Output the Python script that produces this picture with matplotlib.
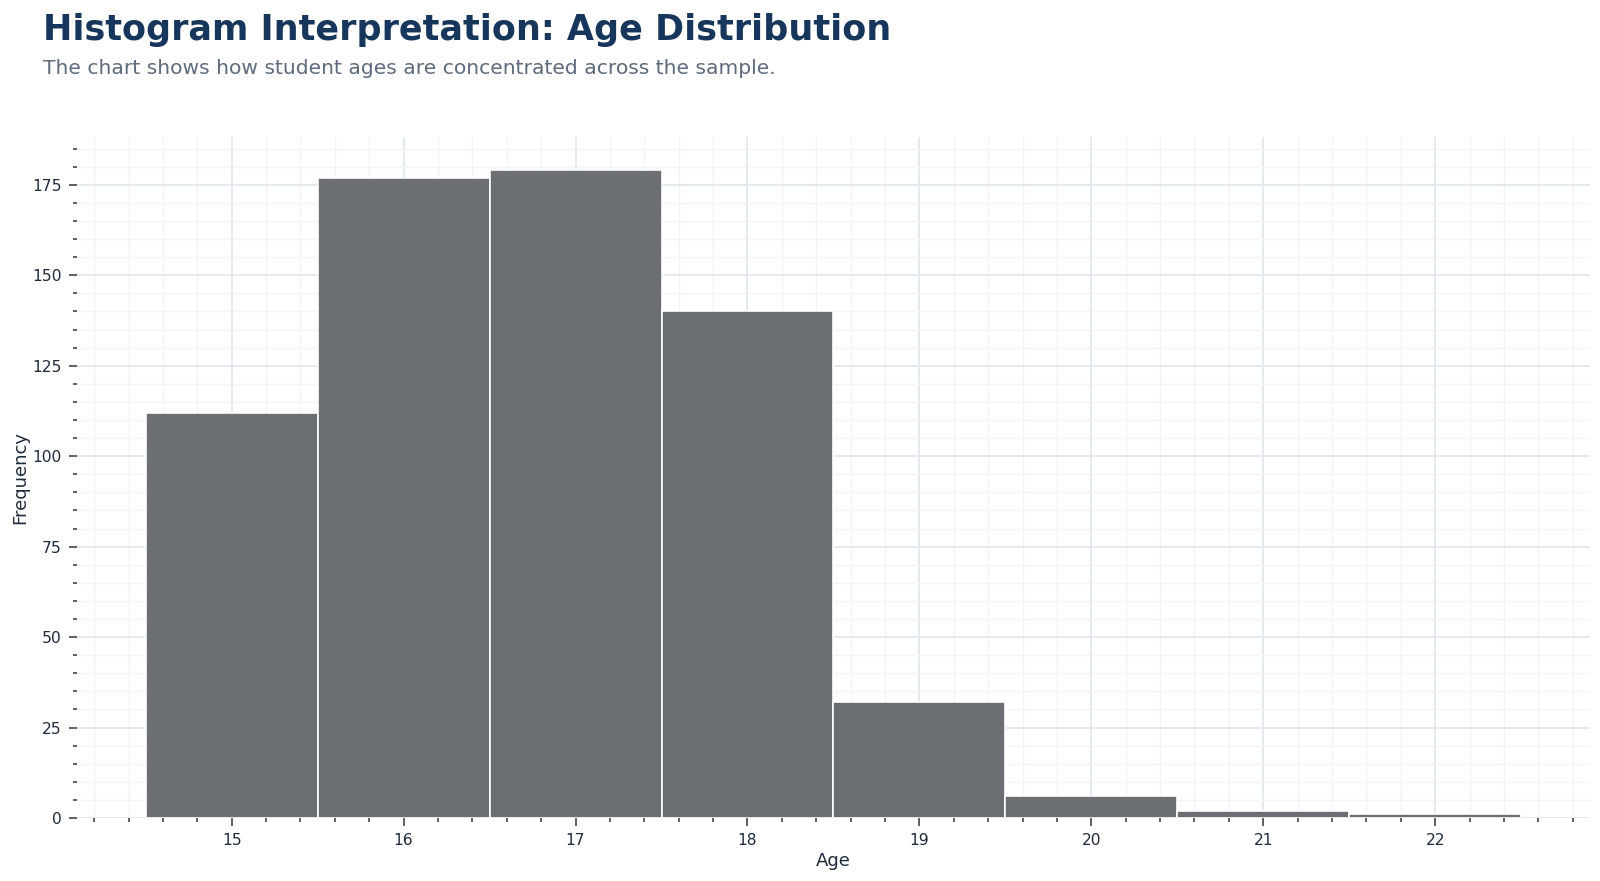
import matplotlib
matplotlib.use("Agg")
import matplotlib.pyplot as plt
from matplotlib.ticker import MultipleLocator

ages = [15, 16, 17, 18, 19, 20, 21, 22]
counts = [112, 177, 179, 140, 32, 6, 2, 1]

title = "Histogram Interpretation: Age Distribution"
subtitle = "The chart shows how student ages are concentrated across the sample."
x_label = "Age"
y_label = "Frequency"

plt.rcParams['font.family'] = ['DejaVu Sans']

fig = plt.figure(figsize=(16, 8.81), dpi=100)
ax = fig.add_axes([0.0481, 0.0715, 0.9456, 0.773])

ax.bar(ages, counts, width=1.0, color='#6b6e72', edgecolor='white', linewidth=1.2, zorder=3)

ax.set_xlim(14.1, 22.9)
ax.set_ylim(0, 188.2)

ax.xaxis.set_major_locator(MultipleLocator(1))
ax.xaxis.set_minor_locator(MultipleLocator(0.2))
ax.yaxis.set_major_locator(MultipleLocator(25))
ax.yaxis.set_minor_locator(MultipleLocator(5))

ax.grid(which='major', color='#e2e7ef', linewidth=1.3, zorder=0)
ax.grid(which='minor', color='#f1f4f8', linewidth=1.0, zorder=0)
ax.set_axisbelow(True)

for s in ax.spines.values():
    s.set_visible(False)

tick_col = '#1f2a3c'
ax.tick_params(axis='both', which='major', direction='out', length=6, width=1.2,
               color='#444444', labelcolor=tick_col, labelsize=11.2, pad=5)
ax.tick_params(axis='both', which='minor', direction='out', length=3, width=1.2,
               color='#444444')

ax.set_xlabel(x_label, fontsize=13, color=tick_col, labelpad=3)
ax.set_ylabel(y_label, fontsize=13, color=tick_col, labelpad=2)

fig.text(0.027, 0.955, title, fontsize=25.2, fontweight='bold', color='#16365c',
         ha='left', va='baseline')
fig.text(0.027, 0.9155, subtitle, fontsize=14.6, color='#5f6b7d',
         ha='left', va='baseline')

fig.savefig('out.png', dpi=100, facecolor='white')
